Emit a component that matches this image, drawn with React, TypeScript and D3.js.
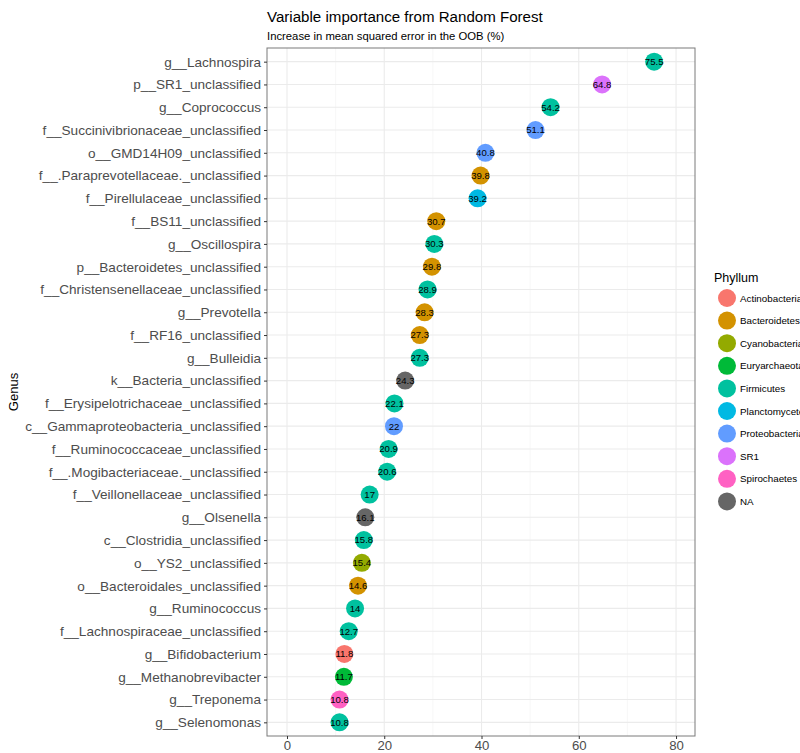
import React, { useEffect, useRef } from "react";
import * as d3 from "d3";

// variable importance, top to bottom
const genus = [
  "g__Lachnospira", "p__SR1_unclassified", "g__Coprococcus",
  "f__Succinivibrionaceae_unclassified", "o__GMD14H09_unclassified",
  "f__.Paraprevotellaceae._unclassified", "f__Pirellulaceae_unclassified",
  "f__BS11_unclassified", "g__Oscillospira", "p__Bacteroidetes_unclassified",
  "f__Christensenellaceae_unclassified", "g__Prevotella", "f__RF16_unclassified",
  "g__Bulleidia", "k__Bacteria_unclassified", "f__Erysipelotrichaceae_unclassified",
  "c__Gammaproteobacteria_unclassified", "f__Ruminococcaceae_unclassified",
  "f__.Mogibacteriaceae._unclassified", "f__Veillonellaceae_unclassified",
  "g__Olsenella", "c__Clostridia_unclassified", "o__YS2_unclassified",
  "o__Bacteroidales_unclassified", "g__Ruminococcus",
  "f__Lachnospiraceae_unclassified", "g__Bifidobacterium",
  "g__Methanobrevibacter", "g__Treponema", "g__Selenomonas",
];

const importance = [
  75.5, 64.8, 54.2, 51.1, 40.8, 39.8, 39.2, 30.7, 30.3, 29.8, 28.9, 28.3, 27.3,
  27.3, 24.3, 22.1, 22, 20.9, 20.6, 17, 16.1, 15.8, 15.4, 14.6, 14, 12.7, 11.8,
  11.7, 10.8, 10.8,
];

const phylum = [
  "Firmicutes", "SR1", "Firmicutes", "Proteobacteria", "Proteobacteria",
  "Bacteroidetes", "Planctomycetes", "Bacteroidetes", "Firmicutes",
  "Bacteroidetes", "Firmicutes", "Bacteroidetes", "Bacteroidetes", "Firmicutes",
  "NA", "Firmicutes", "Proteobacteria", "Firmicutes", "Firmicutes", "Firmicutes",
  "NA", "Firmicutes", "Cyanobacteria", "Bacteroidetes", "Firmicutes",
  "Firmicutes", "Actinobacteria", "Euryarchaeota", "Spirochaetes", "Firmicutes",
];

const phylumLevels = [
  "Actinobacteria", "Bacteroidetes", "Cyanobacteria", "Euryarchaeota",
  "Firmicutes", "Planctomycetes", "Proteobacteria", "SR1", "Spirochaetes", "NA",
];
const phylumColors = [
  "#F8766D", "#D39200", "#93AA00", "#00BA38", "#00C19F", "#00B9E3",
  "#619CFF", "#DB72FB", "#FF61C3", "#666666",
];

const xTicks = [0, 20, 40, 60, 80];

export default function App() {
  const svgRef = useRef<SVGSVGElement>(null);

  useEffect(() => {
    const w = 800;
    const h = 753;
    const left = 267;
    const right = 695;
    const top = 48;
    const bottom = 736;

    const svg = d3.select(svgRef.current).attr("width", w).attr("height", h);
    svg.selectAll("*").remove();

    const font = "Liberation Sans, Arial, sans-serif";

    const x = d3.scaleLinear().domain([-4.11, 83.9]).range([left, right]);
    const y = d3.scalePoint().domain(genus).range([top, bottom]).padding(0.6);
    const color = d3.scaleOrdinal<string>().domain(phylumLevels).range(phylumColors);

    svg.append("rect").attr("width", w).attr("height", h).attr("fill", "#fff");

    // grid
    const grid = svg.append("g");
    grid
      .selectAll(".minor")
      .data([10, 30, 50, 70])
      .join("line")
      .attr("x1", (d) => x(d))
      .attr("x2", (d) => x(d))
      .attr("y1", top)
      .attr("y2", bottom)
      .attr("stroke", "#F2F2F2")
      .attr("stroke-width", 0.6);
    grid
      .selectAll(".majx")
      .data(xTicks)
      .join("line")
      .attr("x1", (d) => x(d))
      .attr("x2", (d) => x(d))
      .attr("y1", top)
      .attr("y2", bottom)
      .attr("stroke", "#EBEBEB")
      .attr("stroke-width", 1.1);
    grid
      .selectAll(".majy")
      .data(genus)
      .join("line")
      .attr("x1", left)
      .attr("x2", right)
      .attr("y1", (d) => y(d)!)
      .attr("y2", (d) => y(d)!)
      .attr("stroke", "#EBEBEB")
      .attr("stroke-width", 1.1);

    // points + labels
    const pts = svg.append("g");
    pts
      .selectAll("circle")
      .data(genus)
      .join("circle")
      .attr("cx", (d, i) => x(importance[i]))
      .attr("cy", (d) => y(d)!)
      .attr("r", 9)
      .attr("fill", (d, i) => color(phylum[i]));
    pts
      .selectAll("text")
      .data(genus)
      .join("text")
      .attr("x", (d, i) => x(importance[i]))
      .attr("y", (d) => y(d)! + 3.4)
      .attr("text-anchor", "middle")
      .attr("font-family", font)
      .attr("font-size", 9.6)
      .attr("fill", "#000")
      .text((d, i) => String(importance[i]));

    // panel border
    svg
      .append("rect")
      .attr("x", left)
      .attr("y", top)
      .attr("width", right - left)
      .attr("height", bottom - top)
      .attr("fill", "none")
      .attr("stroke", "#7a7a7a")
      .attr("stroke-width", 1);

    // y axis
    const yAxis = svg
      .append("g")
      .attr("transform", `translate(${left},0)`)
      .call(d3.axisLeft(y).tickSize(3).tickPadding(3));
    yAxis.select(".domain").remove();
    yAxis.selectAll("line").attr("stroke", "#333");
    yAxis
      .selectAll("text")
      .attr("font-family", font)
      .attr("font-size", 13.6)
      .attr("fill", "#4D4D4D");

    // x axis
    const xAxis = svg
      .append("g")
      .attr("transform", `translate(0,${bottom})`)
      .call(d3.axisBottom(x).tickValues(xTicks).tickSize(3).tickPadding(2));
    xAxis.select(".domain").remove();
    xAxis.selectAll("line").attr("stroke", "#333");
    xAxis
      .selectAll("text")
      .attr("font-family", font)
      .attr("font-size", 13.2)
      .attr("fill", "#4D4D4D");

    svg
      .append("text")
      .attr("transform", `translate(18,${(top + bottom) / 2}) rotate(-90)`)
      .attr("text-anchor", "middle")
      .attr("font-family", font)
      .attr("font-size", 13)
      .attr("fill", "#000")
      .text("Genus");

    // titles
    svg
      .append("text")
      .attr("x", left)
      .attr("y", 22)
      .attr("font-family", font)
      .attr("font-size", 15.1)
      .attr("fill", "#000")
      .text("Variable importance from Random Forest");
    svg
      .append("text")
      .attr("x", left)
      .attr("y", 40)
      .attr("font-family", font)
      .attr("font-size", 11.3)
      .attr("fill", "#000")
      .text("Increase in mean squared error in the OOB (%)");

    // legend
    const legend = svg.append("g").attr("transform", "translate(714,0)");
    legend
      .append("text")
      .attr("x", 0)
      .attr("y", 282)
      .attr("font-family", font)
      .attr("font-size", 12.5)
      .attr("fill", "#000")
      .text("Phyllum");
    const keys = legend
      .selectAll(".key")
      .data(phylumLevels)
      .join("g")
      .attr("transform", (d, i) => `translate(0,${298 + i * 22.6})`);
    keys
      .append("circle")
      .attr("cx", 13)
      .attr("cy", 0)
      .attr("r", 9)
      .attr("fill", (d) => color(d));
    keys
      .append("text")
      .attr("x", 26)
      .attr("y", 3.5)
      .attr("font-family", font)
      .attr("font-size", 9.8)
      .attr("fill", "#000")
      .text((d) => d);
  }, []);

  return (
    <div style={{ position: "absolute", left: 0, top: 0 }}>
      <svg ref={svgRef} style={{ display: "block" }}></svg>
    </div>
  );
}
